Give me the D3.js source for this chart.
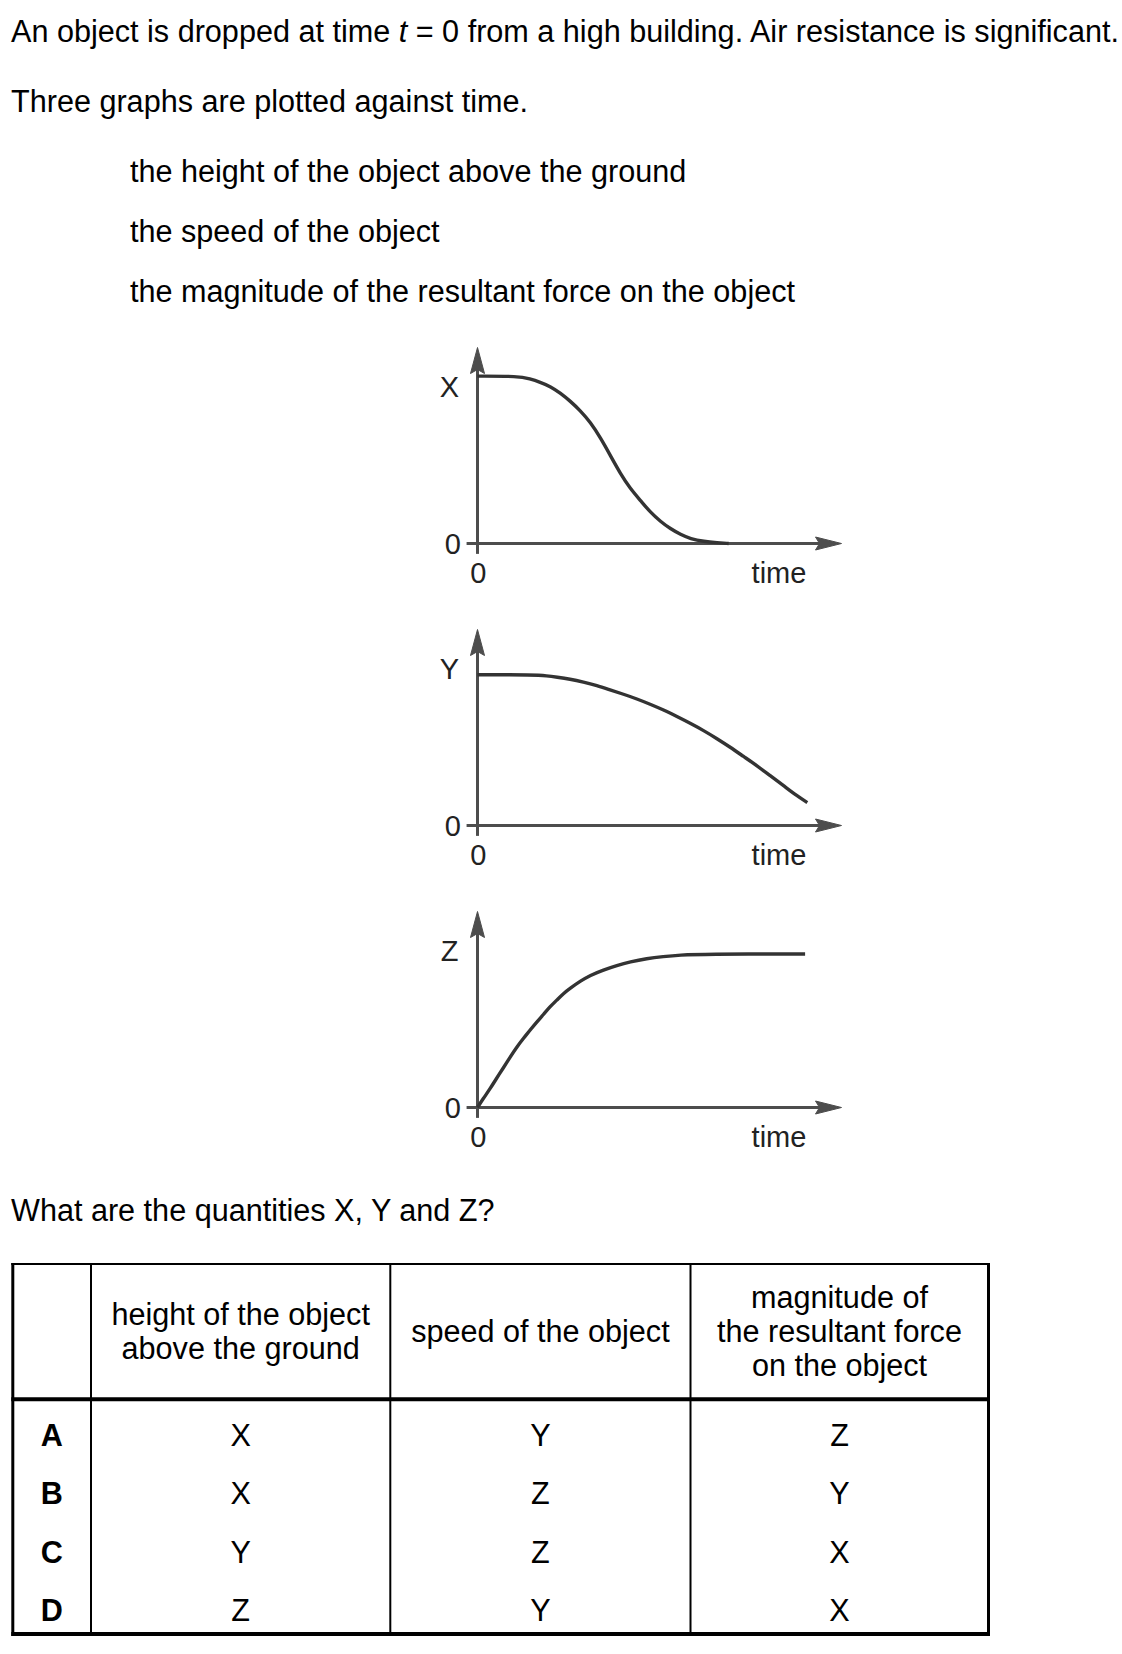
<!DOCTYPE html>
<html><head><meta charset="utf-8">
<script src="https://cdn.jsdelivr.net/npm/d3@7"></script>
<style>html,body{margin:0;padding:0;background:#fff;} svg{display:block}</style>
</head><body>
<script>
// ---------- DATA ----------
const sentence1 = ["An object is dropped at time ", "t", " = 0 from a high building. Air resistance is significant."];
const sentence2 = "Three graphs are plotted against time.";
const quantities = ["the height of the object above the ground", "the speed of the object", "the magnitude of the resultant force on the object"];
const question = "What are the quantities X, Y and Z?";

const graphLabels = ["X", "Y", "Z"];
const timeLabel = "time";
const zeroLabel = "0";

// curve points: [time, value] (arbitrary units, time 0..100, value 0..100)
const curveX = [[0,85.4],[11.3,85.4],[14.4,84.0],[17.2,82.3],[20.1,80.1],[22.8,76.7],[25.5,72.6],[28.2,67.9],[31.0,61.9],[33.8,53.9],[36.5,44.9],[39.3,35.5],[42.0,27.9],[44.8,21.9],[47.5,15.9],[50.3,11.2],[53.0,7.5],[55.8,4.6],[58.5,2.4],[62.2,1.0],[65.9,0.4],[69,0]];
const curveY = [[0,76.9],[15.8,76.9],[19.0,76.4],[21.8,75.7],[25.4,74.7],[29.1,73.2],[32.8,71.4],[36.4,69.2],[40.1,67.0],[43.8,64.6],[47.4,61.9],[51.1,59.0],[54.8,55.6],[58.4,52.2],[62.1,48.5],[65.8,44.3],[69.4,40.0],[73.1,35.2],[76.8,30.5],[80.4,25.4],[84.1,20.3],[87.7,15.2],[90.6,11.7]];
const curveZ = [[0,0],[1.6,4.6],[3.5,9.7],[5.3,15.1],[7.1,20.2],[9.0,25.8],[10.8,30.9],[12.6,35.2],[14.4,39.4],[16.3,43.7],[18.1,47.4],[19.9,51.4],[21.8,54.8],[23.6,58.2],[25.5,60.9],[28.2,64.4],[30.9,67.4],[34.6,70.2],[38.3,72.5],[41.9,74.3],[46.5,76.0],[51.0,77.0],[55.6,77.8],[62.0,78.3],[90.0,78.3]];

const optionLetters = ["A", "B", "C", "D"];
const headerHeight = ["height of the object", "above the ground"];
const headerSpeed = ["speed of the object"];
const headerForce = ["magnitude of", "the resultant force", "on the object"];
const colHeight = ["X", "X", "Y", "Z"];
const colSpeed = ["Y", "Z", "Z", "Y"];
const colForce = ["Z", "Y", "X", "X"];

// ---------- LAYOUT ----------
const W = 1122, H = 1654;
const FONT = "'Liberation Sans', Arial, Helvetica, sans-serif";
const FS = 30.6;

const svg = d3.select("body").append("svg").attr("width", W).attr("height", H);
svg.append("rect").attr("width", W).attr("height", H).attr("fill", "#fff");

function txt(x, y, s, opts = {}) {
  return svg.append("text").attr("x", x).attr("y", y)
    .attr("font-family", FONT).attr("font-size", opts.size || FS)
    .attr("font-weight", opts.weight || "normal")
    .attr("text-anchor", opts.anchor || "start")
    .attr("fill", opts.fill || "#000").text(s);
}

// intro text
const t1 = svg.append("text").attr("x", 11).attr("y", 42)
  .attr("font-family", FONT).attr("font-size", FS).attr("fill", "#000");
sentence1.forEach((s, i) => t1.append("tspan").attr("font-style", i === 1 ? "italic" : "normal").text(s));
txt(11, 112, sentence2);
const qBase = [182, 242, 302];
quantities.forEach((q, i) => txt(130, qBase[i], q));
txt(11, 1221, question);

// ---------- GRAPHS ----------
const panels = [
  { label: graphLabels[0], axisY: 543.5, data: curveX },
  { label: graphLabels[1], axisY: 825.5, data: curveY },
  { label: graphLabels[2], axisY: 1107.5, data: curveZ }
];
const axisColor = "#4d4d4d", curveColor = "#333";

panels.forEach(p => {
  const x = d3.scaleLinear().domain([0, 100]).range([477.5, 841.5]);
  const y = d3.scaleLinear().domain([0, 100]).range([p.axisY, p.axisY - 196]);
  const g = svg.append("g");
  // x axis
  g.append("line").attr("x1", x(-3)).attr("x2", x(100) - 18)
    .attr("y1", y(0)).attr("y2", y(0)).attr("stroke", axisColor).attr("stroke-width", 3);
  g.append("path").attr("d", `M${x(100)},${y(0)} L${x(100) - 26},${y(0) - 6.5} L${x(100) - 22},${y(0)} L${x(100) - 26},${y(0) + 6.5} Z`)
    .attr("fill", axisColor).attr("stroke", axisColor).attr("stroke-width", 1);
  // y axis
  g.append("line").attr("x1", x(0)).attr("x2", x(0))
    .attr("y1", y(-5.3)).attr("y2", y(100) + 18).attr("stroke", axisColor).attr("stroke-width", 3);
  g.append("path").attr("d", `M${x(0)},${y(100)} L${x(0) - 7},${y(100) + 26} L${x(0)},${y(100) + 22} L${x(0) + 7},${y(100) + 26} Z`)
    .attr("fill", axisColor).attr("stroke", axisColor).attr("stroke-width", 1);
  // curve
  const line = d3.line().x(d => x(d[0])).y(d => y(d[1])).curve(d3.curveBasis);
  g.append("path").datum(p.data).attr("d", line).attr("fill", "none")
    .attr("stroke", curveColor).attr("stroke-width", 3.4).attr("stroke-linejoin", "round");
  // labels
  const lf = { size: 29, fill: "#222" };
  txt(449.5, p.axisY - 146.2, p.label, { ...lf, anchor: "middle" });
  txt(461, p.axisY + 10, zeroLabel, { ...lf, anchor: "end" });
  txt(478.3, p.axisY + 39, zeroLabel, { ...lf, anchor: "middle" });
  txt(779, p.axisY + 39, timeLabel, { ...lf, anchor: "middle" });
});

// ---------- TABLE ----------
const colEdges = [12.8, 91, 390.3, 690.5, 988.5];
const tTop = 1264, tHead = 1399.3, tBot = 1634;
const tg = svg.append("g");
[[tTop, 2], [tHead, 4], [tBot, 4]].forEach(([yy, w]) =>
  tg.append("line").attr("x1", colEdges[0] - 1.5).attr("x2", colEdges[4] + 1.5)
    .attr("y1", yy).attr("y2", yy).attr("stroke", "#000").attr("stroke-width", w));
colEdges.forEach((xx, i) =>
  tg.append("line").attr("x1", xx).attr("x2", xx).attr("y1", tTop - 1).attr("y2", tBot + 2)
    .attr("stroke", "#000").attr("stroke-width", (i === 0 || i === 4) ? 3 : 2));

const colCenters = d3.range(4).map(i => (colEdges[i] + colEdges[i + 1]) / 2);
const headers = [headerHeight, headerSpeed, headerForce];
const headMid = 1342, lineH = 34;
headers.forEach((lines, c) => {
  const n = lines.length;
  lines.forEach((s, k) => {
    txt(colCenters[c + 1], headMid + (k - (n - 1) / 2) * lineH, s, { anchor: "middle" });
  });
});

const rowY = d3.scalePoint().domain(optionLetters).range([1446, 1621]);
const cols = [colHeight, colSpeed, colForce];
optionLetters.forEach((L, r) => {
  txt(colCenters[0], rowY(L), L, { anchor: "middle", weight: "bold" });
  cols.forEach((col, c) => txt(colCenters[c + 1], rowY(L), col[r], { anchor: "middle" }));
});
</script>
</body></html>
